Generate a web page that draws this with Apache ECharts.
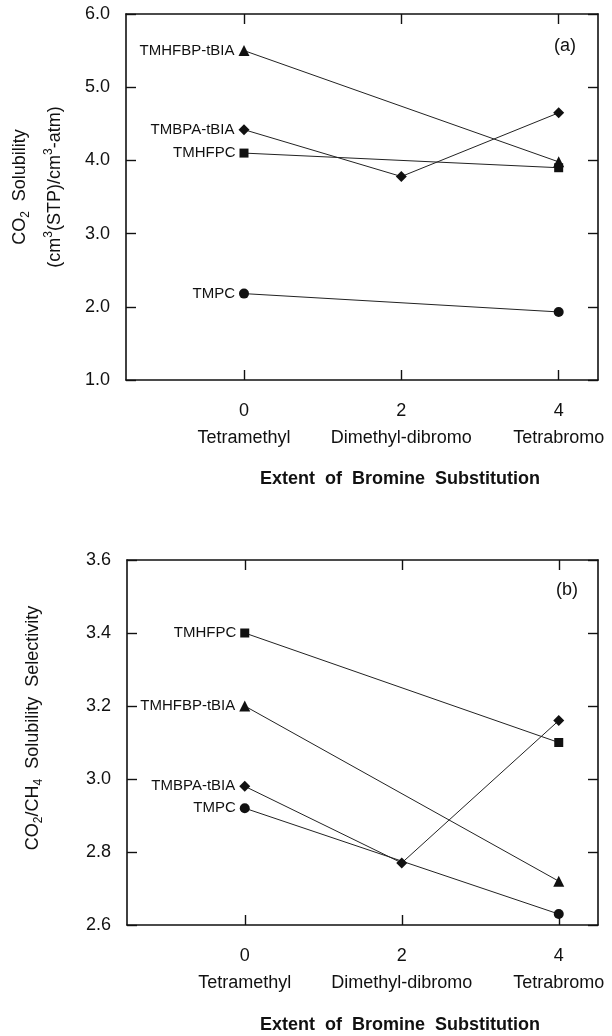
<!DOCTYPE html>
<html>
<head>
<meta charset="utf-8">
<script src="https://cdn.jsdelivr.net/npm/echarts@6/dist/echarts.min.js"></script>
<style>
html,body{margin:0;padding:0;background:#fff;}
#c{width:612px;height:1036px;}
</style>
</head>
<body>
<div id="c"></div>
<script>
// Extent of bromine substitution (x positions) and category names
const substitution = [0, 2, 4];
const substitutionNames = ['Tetramethyl', 'Dimethyl-dibromo', 'Tetrabromo'];

// Panel (a): CO2 solubility, cm3(STP)/cm3-atm  (null = no measurement)
const solTMHFBP = [5.50, null, 3.98];
const solTMBPA  = [4.42, 3.78, 4.65];
const solTMHFPC = [4.10, null, 3.90];
const solTMPC   = [2.18, null, 1.93];

// Panel (b): CO2/CH4 solubility selectivity
const selTMHFPC = [3.40, null, 3.10];
const selTMHFBP = [3.20, null, 2.72];
const selTMBPA  = [2.98, 2.77, 3.16];
const selTMPC   = [2.92, null, 2.63];

// Y tick labels
const solTicks = [1.0, 2.0, 3.0, 4.0, 5.0, 6.0];
const selTicks = [2.6, 2.8, 3.0, 3.2, 3.4, 3.6];

const FONT = '"Liberation Sans", Arial, Helvetica, sans-serif';
const INK = '#111';

function pts(vals) {
  const out = [];
  vals.forEach((v, i) => { if (v !== null) out.push([substitution[i], v]); });
  return out;
}

function mkSeries(name, vals, symbol, size, xi, yi) {
  const d = pts(vals).map((p, i) => i === 0 ? {
    value: p,
    label: { show: true, position: 'left', distance: 4, formatter: name,
             fontFamily: FONT, fontSize: 15, color: INK }
  } : { value: p });
  return {
    type: 'line', name: name, data: d, xAxisIndex: xi, yAxisIndex: yi,
    symbol: symbol, symbolSize: size, showSymbol: true,
    lineStyle: { color: '#222', width: 1 },
    itemStyle: { color: INK, borderWidth: 0 },
    emphasis: { disabled: true }, animation: false, z: 3
  };
}

const lineStyle = { color: INK, width: 1.6 };
function xAx(gi, pos, labels) {
  return {
    type: 'value', gridIndex: gi, position: pos, min: -1.5, max: 4.5,
    axisLine: { show: true, onZero: false, lineStyle: lineStyle },
    splitLine: { show: false },
    axisTick: { show: true, inside: true, length: 10, lineStyle: { color: INK, width: 1.4 },
                customValues: substitution },
    axisLabel: labels ? {
      show: true, margin: 18, customValues: substitution,
      formatter: v => '{n|' + v + '}\n{c|' + substitutionNames[substitution.indexOf(v)] + '}',
      rich: {
        n: { fontFamily: FONT, fontSize: 18, color: INK, lineHeight: 27 },
        c: { fontFamily: FONT, fontSize: 18, color: INK, lineHeight: 27 }
      }
    } : { show: false }
  };
}
function yAx(gi, pos, ticks, labels) {
  return {
    type: 'value', gridIndex: gi, position: pos,
    min: ticks[0], max: ticks[ticks.length - 1],
    axisLine: { show: true, onZero: false, lineStyle: lineStyle },
    splitLine: { show: false },
    axisTick: { show: true, inside: true, length: 10, lineStyle: { color: INK, width: 1.4 },
                customValues: ticks },
    axisLabel: labels ? {
      show: true, margin: 16, customValues: ticks,
      formatter: v => Number(v).toFixed(1),
      fontFamily: FONT, fontSize: 18, color: INK
    } : { show: false }
  };
}

const richTitle = {
  n: { fontFamily: FONT, fontSize: 18, fill: INK, lineHeight: 24 },
  s: { fontFamily: FONT, fontSize: 12, fill: INK, lineHeight: 12, verticalAlign: 'bottom' },
  p: { fontFamily: FONT, fontSize: 12, fill: INK, lineHeight: 12, verticalAlign: 'top' }
};
function vTitle(x, y, text) {
  return { type: 'text', x: x, y: y, rotation: Math.PI / 2,
    style: { text: text, align: 'center', verticalAlign: 'middle', rich: richTitle } };
}

const option = {
  backgroundColor: '#fff',
  animation: false,
  grid: [
    { left: 126, right: 14, top: 14, bottom: 656, containLabel: false },
    { left: 127, right: 14, top: 560, bottom: 111, containLabel: false }
  ],
  xAxis: [ xAx(0, 'bottom', true), xAx(0, 'top', false), xAx(1, 'bottom', true), xAx(1, 'top', false) ],
  yAxis: [ yAx(0, 'left', solTicks, true), yAx(0, 'right', solTicks, false),
           yAx(1, 'left', selTicks, true), yAx(1, 'right', selTicks, false) ],
  series: [
    mkSeries('TMHFBP-tBIA', solTMHFBP, 'triangle', 11, 0, 0),
    mkSeries('TMBPA-tBIA', solTMBPA, 'diamond', 11, 0, 0),
    mkSeries('TMHFPC', solTMHFPC, 'rect', 9, 0, 0),
    mkSeries('TMPC', solTMPC, 'circle', 10, 0, 0),
    mkSeries('TMHFPC', selTMHFPC, 'rect', 9, 2, 2),
    mkSeries('TMHFBP-tBIA', selTMHFBP, 'triangle', 11, 2, 2),
    mkSeries('TMBPA-tBIA', selTMBPA, 'diamond', 11, 2, 2),
    mkSeries('TMPC', selTMPC, 'circle', 10, 2, 2)
  ],
  graphic: [
    { type: 'text', x: 565, y: 46, style: { text: '(a)', font: '18px ' + FONT, fill: INK, align: 'center', verticalAlign: 'middle' } },
    { type: 'text', x: 567, y: 590, style: { text: '(b)', font: '18px ' + FONT, fill: INK, align: 'center', verticalAlign: 'middle' } },
    { type: 'text', x: 400, y: 479, style: { text: 'Extent  of  Bromine  Substitution', font: 'bold 18px ' + FONT, fill: INK, align: 'center', verticalAlign: 'middle' } },
    { type: 'text', x: 400, y: 1025, style: { text: 'Extent  of  Bromine  Substitution', font: 'bold 18px ' + FONT, fill: INK, align: 'center', verticalAlign: 'middle' } },
    vTitle(20, 187, '{n|CO}{s|2}{n|  Solubility}'),
    vTitle(55, 187, '{n|(cm}{p|3}{n|(STP)/cm}{p|3}{n|-atm)}'),
    vTitle(33, 728, '{n|CO}{s|2}{n|/CH}{s|4}{n|  Solubility  Selectivity}')
  ]
};

const chart = echarts.init(document.getElementById('c'), null, { renderer: 'canvas' });
chart.setOption(option);
</script>
</body>
</html>
